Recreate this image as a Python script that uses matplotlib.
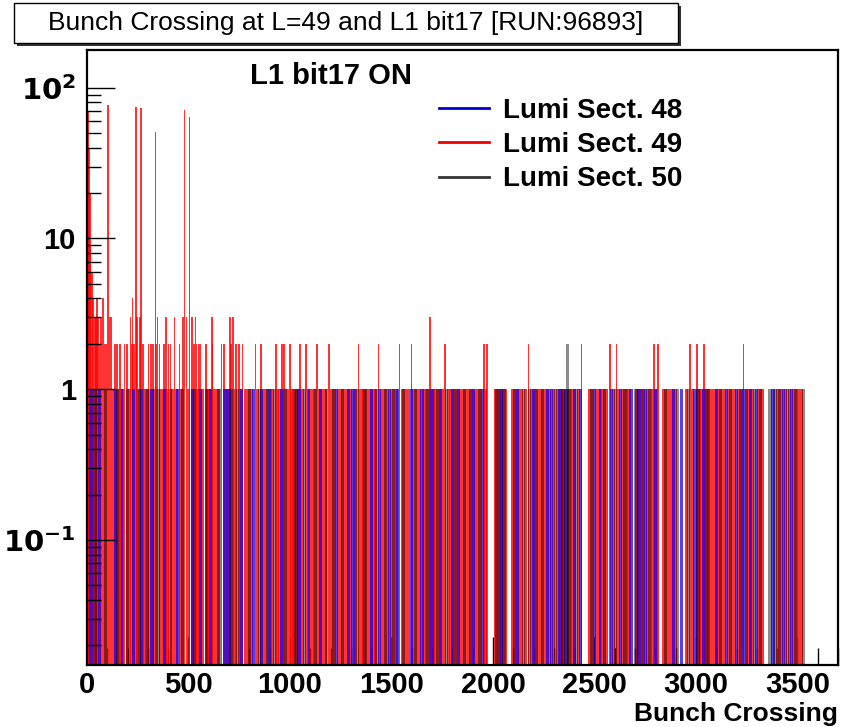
import matplotlib
matplotlib.use("Agg")
import matplotlib.pyplot as plt
from matplotlib.patches import Rectangle
from matplotlib.lines import Line2D
from matplotlib.ticker import FixedLocator, FixedFormatter, MultipleLocator, NullFormatter

plt.rcParams['font.family'] = ['Liberation Sans', 'DejaVu Sans']

# ---------------------------------------------------------------
# data: bunch crossings with entries
# ---------------------------------------------------------------

# lumi section 48 (blue) - all bins have one entry
ls48_bx = [20, 60, 140, 175, 230, 270, 320, 380, 445, 520, 560, 610, 680, 700,
           760, 820, 860, 900, 960, 1045, 1090, 1150, 1230, 1290, 1310, 1400,
           1440, 1490, 1530, 1600, 1650, 1700, 1740, 1800, 1830, 1905, 1950,
           2040, 2120, 2200, 2270, 2290, 2330, 2360, 2400, 2430, 2500, 2530,
           2585, 2630, 2680, 2720, 2750, 2800, 2890, 2930, 2995, 3040, 3100,
           3150, 3200, 3235, 3270, 3300, 3380, 3430, 3470]

# lumi section 49 (red) - bins with one entry
ls49_bx_single = [130, 155, 170, 210, 250, 285, 295, 330, 365, 395, 420, 440, 460,
                  500, 545, 570, 595, 605, 630, 645, 690, 725, 755, 780, 795, 810,
                  840, 870, 885, 905, 915, 940, 950, 985, 1010, 1020, 1035, 1060,
                  1095, 1110, 1120, 1145, 1160, 1175, 1205, 1220, 1240, 1255, 1270,
                  1285, 1300, 1320, 1350, 1365, 1380, 1395, 1410, 1420, 1450, 1465,
                  1480, 1500, 1515, 1525, 1555, 1570, 1585, 1610, 1625, 1640, 1660,
                  1675, 1705, 1720, 1735, 1750, 1780, 1790, 1805, 1820, 1835, 1850,
                  1865, 1880, 1895, 1910, 1925, 1940, 1965, 2015, 2030, 2045, 2060,
                  2095, 2110, 2125, 2140, 2160, 2190, 2205, 2220, 2235, 2250, 2265,
                  2280, 2300, 2320, 2335, 2350, 2380, 2395, 2420, 2475, 2490, 2510,
                  2525, 2545, 2560, 2595, 2620, 2640, 2655, 2670, 2710, 2725, 2740,
                  2760, 2775, 2785, 2805, 2840, 2855, 2870, 2885, 2900, 2955, 2985,
                  3015, 3025, 3050, 3065, 3080, 3095, 3110, 3125, 3140, 3160, 3175,
                  3190, 3210, 3225, 3250, 3265, 3280, 3310, 3325, 3405, 3420, 3440,
                  3460, 3480, 3495, 3505, 3522]

# lumi section 49 (red) - bins with more than one entry
ls49_bx_multi = [2, 6, 10, 14, 18, 24, 31, 38, 44, 48, 55, 62, 70, 80, 88, 96,
                 104, 112, 120, 137, 149, 162, 185, 198, 215, 222, 225, 232, 240,
                 243, 245, 260, 265, 276, 303, 314, 325, 338, 341, 348, 358, 378,
                 390, 402, 412, 431, 456, 472, 480, 490, 505, 518, 527, 535, 540,
                 552, 560, 586, 617, 619, 662, 674, 705, 709, 720, 735, 748, 766,
                 831, 856, 931, 960, 970, 1000, 1049, 1078, 1132, 1191, 1338, 1436,
                 1539, 1598, 1691, 1765, 1956, 1971, 2176, 2436, 2578, 2608, 2794,
                 2814, 2970, 3005, 3039, 3235]
ls49_n_multi = [88, 70, 40, 20, 9, 6, 4, 3, 3, 4, 3, 2, 3, 4, 2, 2,
                77, 3, 3, 2, 2, 2, 2, 2, 3, 2, 4, 2, 74,
                2, 3, 3, 73, 2, 2, 2, 2, 51, 2, 3, 2, 2,
                3, 2, 2, 3, 2, 3, 71, 3, 64, 3, 2, 3, 2,
                2, 2, 2, 3, 2, 2, 2, 3, 2, 3, 2, 2, 2,
                2, 2, 2, 2, 2, 2, 2, 2, 2, 2, 2, 2,
                2, 2, 3, 2, 2, 2, 2, 2, 2, 2, 2,
                2, 2, 2, 2, 2]

# lumi section 50 (black)
ls50_bx = [40, 90, 150, 200, 260, 300, 350, 410, 470, 530, 590, 650, 710, 740,
           800, 850, 890, 925, 975, 1030, 1070, 1125, 1180, 1215, 1260, 1330,
           1370, 1425, 1470, 1510, 1560, 1620, 1680, 1725, 1770, 1815, 1860,
           1890, 1935, 2020, 2055, 2105, 2150, 2180, 2215, 2245, 2310, 2345,
           2368, 2375, 2410, 2485, 2550, 2605, 2650, 2705, 2735, 2770, 2850,
           2910, 2965, 3010, 3060, 3120, 3170, 3220, 3250, 3290, 3320, 3365,
           3390, 3410, 3450, 3490, 3530]
ls50_n = [1, 1, 1, 1, 1, 1, 1, 1, 1, 1, 1, 1, 1, 1,
          1, 1, 1, 1, 1, 1, 1, 1, 1, 1, 1, 1,
          1, 1, 1, 1, 1, 1, 1, 1, 1, 1, 1,
          1, 1, 1, 1, 1, 1, 1, 1, 1, 1, 1,
          2, 1, 1, 1, 1, 1, 1, 1, 1, 1, 1,
          1, 1, 1, 1, 1, 1, 1, 1, 1, 1, 1,
          1, 1, 1, 1, 1]

labels = ['Lumi Sect. 48', 'Lumi Sect. 49', 'Lumi Sect. 50']

# ---------------------------------------------------------------
fig = plt.figure(figsize=(8.44, 7.27), dpi=100)
ax = fig.add_axes([87 / 844, 1 - 665 / 727, 751 / 844, 615 / 727])

ymin = 0.0148
w = 16
# red first, then blue and black on top so they show through as stripes
ax.bar(ls49_bx_multi, ls49_n_multi, width=8, bottom=1e-3, color='#ff0000',
       alpha=0.8, linewidth=0)
ax.bar(ls49_bx_single, [1] * len(ls49_bx_single), width=w, bottom=1e-3,
       color='#ff0000', alpha=0.8, linewidth=0)
ax.bar(ls48_bx, [1] * len(ls48_bx), width=w, bottom=1e-3, color='#1a00ee',
       alpha=0.75, linewidth=0)
ax.bar(ls50_bx, ls50_n, width=w, bottom=1e-3, color='#000000', alpha=0.45,
       linewidth=0)

ax.set_yscale('log')
ax.set_xlim(0, 3700)
ax.set_ylim(ymin, 178)

ax.xaxis.set_major_locator(MultipleLocator(500))
ax.xaxis.set_minor_locator(MultipleLocator(100))
ax.yaxis.set_major_locator(FixedLocator([0.1, 1, 10, 100]))
ax.yaxis.set_major_formatter(FixedFormatter([r'$\mathbf{10^{-1}}$', '1', '10', r'$\mathbf{10^{2}}$']))
minors = [m * d for d in (0.01, 0.1, 1, 10, 100) for m in range(2, 10)]
ax.yaxis.set_minor_locator(FixedLocator(minors))
ax.yaxis.set_minor_formatter(NullFormatter())

ax.tick_params(which='both', direction='in', top=False, right=False, width=1)
ax.tick_params(which='major', length=20, labelsize=21)
ax.tick_params(axis='x', which='major', pad=4)
ax.tick_params(axis='y', which='major', pad=8)
ax.tick_params(which='minor', length=10)
ax.tick_params(axis='x', which='minor', length=12)
ax.xaxis.set_zorder(0.5)   # x ticks sit behind the bars
for lab in ax.get_xticklabels() + ax.get_yticklabels():
    lab.set_fontweight('bold')
for s in ax.spines.values():
    s.set_linewidth(1.6)
    s.set_zorder(3)

fig.text(838 / 844, 1 / 727, 'Bunch Crossing', fontsize=19, fontweight='bold',
         ha='right', va='bottom')

ax.text(0.217, 0.958, 'L1 bit17 ON', transform=ax.transAxes, fontsize=21,
        fontweight='bold', va='center', ha='left')

handles = [Line2D([], [], color='#0000cc', lw=2),
           Line2D([], [], color='#ee0000', lw=2),
           Line2D([], [], color='#333333', lw=2)]
ax.legend(handles, labels, loc='upper left', bbox_to_anchor=(0.45, 0.945),
          frameon=False, prop={'weight': 'bold', 'size': 20},
          handlelength=1.8, handletextpad=0.5, labelspacing=0.3, borderpad=0)

# title box with shadow
fig.patches.append(Rectangle((17 / 844, 1 - 46 / 727), 664 / 844, 40 / 727,
                             transform=fig.transFigure, facecolor='#333333',
                             edgecolor='none'))
fig.patches.append(Rectangle((14 / 844, 1 - 43 / 727), 664 / 844, 40 / 727,
                             transform=fig.transFigure, facecolor='white',
                             edgecolor='black', linewidth=1))
fig.text(346 / 844, 1 - 23 / 727, 'Bunch Crossing at L=49 and L1 bit17 [RUN:96893]',
         ha='center', va='center', fontsize=19)

fig.savefig('out.png', dpi=100)
